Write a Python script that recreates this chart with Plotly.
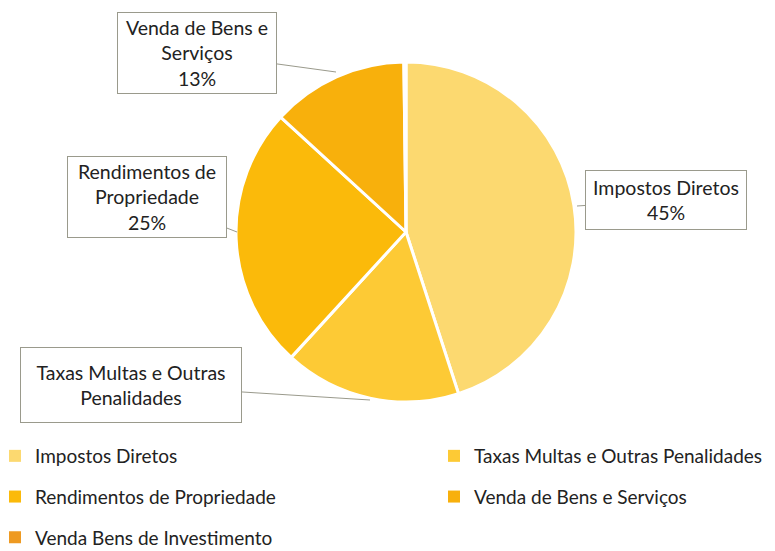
import plotly.graph_objects as go

## dados do grafico
categorias = ["Impostos Diretos", "Taxas Multas e Outras Penalidades",
              "Rendimentos de Propriedade", "Venda de Bens e Serviços",
              "Venda Bens de Investimento"]
valores = [45.0, 16.8, 25.0, 13.0, 0.2]
cores = ["#FCD970", "#FDCA35", "#FBBA0A", "#F8B00C", "#EE9A22"]
rotulos = ["Impostos Diretos<br>45%", "Taxas Multas e Outras<br>Penalidades",
           "Rendimentos de<br>Propriedade<br>25%", "Venda de Bens e<br>Serviços<br>13%", None]

W, H = 775, 551
OFF = 8  # margem do body da pagina
FONTE = dict(family="Lato", size=19.5, color="#222222")

def px(x):
    return (x - OFF) / W

def py(y):
    return 1 - (y - OFF) / H

fig = go.Figure()

## legenda em duas colunas (pizzas invisiveis so para a legenda)
coluna = ["legend", "legend2", "legend", "legend2", "legend"]
for i, cat in enumerate(categorias):
    fig.add_trace(go.Pie(
        labels=[cat], values=[valores[i]], sort=False,
        marker=dict(colors=[cores[i]], line=dict(width=0)),
        textinfo="none", hoverinfo="skip",
        domain=dict(x=[0.999, 1], y=[0.999, 1]),
        legend=coluna[i], legendgroup=cat,
    ))

fig.add_trace(go.Pie(
    labels=categorias, values=valores, sort=False, direction="clockwise",
    marker=dict(colors=cores, line=dict(color="white", width=3)),
    textinfo="none", hoverinfo="label+percent", showlegend=False,
    domain=dict(x=[px(236), px(576)], y=[py(402), py(62)]),
))

## caixas de texto (callouts)
caixas = [
    # indice, ponta da seta, centro da caixa, largura, altura
    (3, (336, 72), (197, 53), 160, 82),
    (2, (237, 232), (147, 197), 160, 82),
    (0, (577, 206), (666, 200), 162, 60),
    (1, (370, 400), (131, 385), 222, 76),
]
for idx, tip, centro, w, h in caixas:
    fig.add_annotation(
        x=px(tip[0]), y=py(tip[1]), xref="paper", yref="paper",
        ax=centro[0] - tip[0], ay=centro[1] - tip[1],
        text=rotulos[idx], showarrow=True, arrowhead=0, arrowwidth=1, arrowcolor="#9a9a8c",
        bordercolor="#9a9a8c", borderwidth=1, borderpad=0, bgcolor="white",
        width=w - 2, height=h - 2, align="center", font=FONTE,
    )

leg = dict(orientation="v", yanchor="top", xanchor="left", tracegroupgap=13,
           font=dict(FONTE, size=19), itemclick=False, itemdoubleclick=False,
           bgcolor="rgba(0,0,0,0)")
fig.update_layout(
    width=W, height=H,
    margin=dict(l=0, r=0, t=0, b=0, autoexpand=False),
    paper_bgcolor="white",
    showlegend=True,
    legend=dict(leg, x=px(-5), y=py(437)),
    legend2=dict(leg, x=px(434), y=py(437)),
)

fig.write_html("out.html")
